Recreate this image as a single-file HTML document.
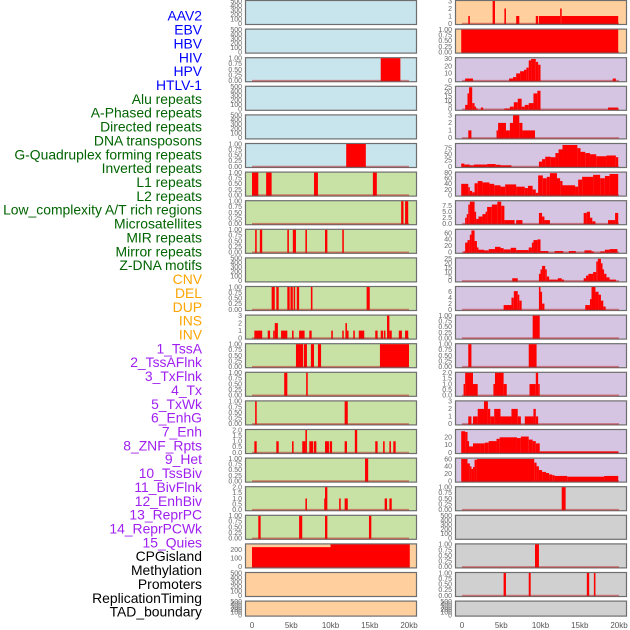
<!DOCTYPE html>
<html><head><meta charset="utf-8"><title>Track density panels</title>
<style>
html,body{margin:0;padding:0;background:#fff;}
svg{display:block;font-family:"Liberation Sans",sans-serif;}
</style></head>
<body>
<svg id="chart" width="630" height="630" viewBox="0 0 630 630" xmlns="http://www.w3.org/2000/svg"></svg>
<script>
// ---- track labels ----
const trackLabels = ["AAV2","EBV","HBV","HIV","HPV","HTLV-1","Alu repeats","A-Phased repeats","Directed repeats","DNA transposons","G-Quadruplex forming repeats","Inverted repeats","L1 repeats","L2 repeats","Low_complexity A/T rich regions","Microsatellites","MIR repeats","Mirror repeats","Z-DNA motifs","CNV","DEL","DUP","INS","INV","1_TssA","2_TssAFlnk","3_TxFlnk","4_Tx","5_TxWk","6_EnhG","7_Enh","8_ZNF_Rpts","9_Het","10_TssBiv","11_BivFlnk","12_EnhBiv","13_ReprPC","14_ReprPCWk","15_Quies","CPGisland","Methylation","Promoters","ReplicationTiming","TAD_boundary"];
const labelColors = ["#0000ff","#0000ff","#0000ff","#0000ff","#0000ff","#0000ff","#006400","#006400","#006400","#006400","#006400","#006400","#006400","#006400","#006400","#006400","#006400","#006400","#006400","#ffa500","#ffa500","#ffa500","#ffa500","#ffa500","#a020f0","#a020f0","#a020f0","#a020f0","#a020f0","#a020f0","#a020f0","#a020f0","#a020f0","#a020f0","#a020f0","#a020f0","#a020f0","#a020f0","#a020f0","#000000","#000000","#000000","#000000","#000000"];

// ---- x axis ----
const xTicks = [0,5,10,15,20];
const xTickLabels = ["0","5kb","10kb","15kb","20kb"];

// ---- y tick sets ----
const t500 = [0,100,200,300,400,500];
const t1 = [0,0.25,0.5,0.75,1];
const t1Labels = ["0.00","0.25","0.50","0.75","1.00"];
const t2 = [0,0.5,1,1.5,2];
const t2Labels = ["0.0","0.5","1.0","1.5","2.0"];
const t3 = [0,1,2,3];
const t30 = [0,10,20,30];
const t25 = [0,5,10,15,20,25];
const t75 = [0,25,50,75];
const t80 = [0,20,40,60,80];
const t7 = [0,2.5,5,7.5];
const t7Labels = ["0.0","2.5","5.0","7.5"];
const t60 = [0,20,40,60];
const t6 = [0,2,4,6];
const t20 = [0,10,20];
const t200 = [0,100,200];

// ---- segments [startKb, endKb, value] ----
const L3 = [[16.4,18.9,1]];
const L6 = [[12.0,14.5,1]];
const L7 = [[0,0.8,1],[1.8,2.5,1],[7.9,8.4,1],[15.4,15.9,1]];
const L8 = [[19.0,19.3,1],[19.5,19.9,1]];
const L9 = [[0.4,0.6,1],[1.0,1.3,1],[4.5,4.7,1],[5.2,5.6,1],[6.8,7.0,1],[9.3,9.6,1],[11.5,11.7,1]];
const L11 = [[2.5,2.9,1],[3.1,3.4,1],[4.5,4.8,1],[4.9,5.2,1],[5.3,5.5,1],[5.7,6.0,1],[7.5,7.7,1],[14.6,15.0,1]];
const L12 = [[0.3,1.3,1],[2.0,2.3,1],[2.7,2.9,1],[2.9,3.3,2],[3.7,4.5,1],[5.1,5.3,1],[6.0,6.7,1],[7.3,7.6,1],[10.1,10.3,1],[11.5,11.6,1],[11.9,12.1,2],[12.1,12.3,1],[12.9,13.1,1],[13.6,14.3,1],[15.7,16.0,1],[16.4,16.7,1],[16.8,17.0,1],[17.2,17.5,3],[17.5,17.8,1],[18.7,19.1,1],[19.5,19.9,1]];
const L13 = [[5.6,6.5,1],[6.6,7.0,1],[7.5,7.9,1],[8.4,8.8,1],[16.3,20.0,1]];
const L14 = [[4.1,4.5,1],[6.9,7.1,1]];
const L15 = [[0.4,0.6,1],[11.8,12.2,1]];
const L16 = [[0.3,0.6,1],[3.1,3.4,1],[5.1,5.3,1],[6.4,6.8,1],[6.8,7.0,2],[7.3,7.8,1],[7.9,8.2,1],[9.3,9.8,1],[9.9,10.2,1],[11.8,12.1,1],[13.1,13.4,2],[15.7,16.0,1],[16.7,16.9,1],[17.5,17.7,1],[18.0,18.3,1]];
const L17 = [[14.4,14.8,1]];
const L18 = [[6.8,7.0,1],[9.2,9.3,1],[9.3,9.6,2],[11.1,11.3,1],[11.8,12.2,1],[16.9,17.2,1],[17.5,17.8,1]];
const L19 = [[0.8,1.1,1],[6.0,6.4,1],[9.3,9.6,1],[14.9,15.2,1]];
const L20 = [[0,10,230],[10,20.1,262]];

const R1 = [[0.8,1.0,1],[3.9,4.2,3],[5.4,5.6,2],[6.9,7.3,1],[9.4,9.7,1],[9.8,12.5,1],[12.5,12.7,2],[12.7,19.9,1]];
const R2 = [[-0.1,19.9,1]];
const R3 = [[0.4,1.4,3],[6.0,6.5,3],[6.5,6.9,5],[6.9,7.4,10],[7.4,7.9,13],[7.9,8.2,15],[8.2,8.5,18],[8.5,8.8,28],[8.8,9.4,30],[9.4,9.7,26],[9.7,10.0,22],[19.2,19.6,3]];
const R4 = [[0.4,0.7,5],[0.7,0.9,18],[0.9,1.3,25],[1.3,1.6,7],[1.6,1.8,3],[1.8,2.0,1],[2.4,2.7,2],[5.4,6.1,1],[6.1,6.6,3],[6.6,7.1,8],[7.1,7.6,12],[7.6,8.0,3],[8.0,8.5,5],[8.5,9.1,7],[9.1,9.6,18],[9.6,10.0,21],[18.6,19.9,2]];
const R5 = [[0.8,1.2,1],[4.4,4.6,1],[4.6,5.6,2],[5.6,6.1,1],[6.1,6.5,2],[6.5,7.3,3],[7.3,7.7,2],[7.7,9.3,1]];
const R6 = [[-0.1,0.3,12],[0.3,1.0,8],[1.0,1.5,5],[1.5,3.2,8],[3.2,4.3,10],[4.3,4.9,7],[4.9,6.3,5],[9.8,10.2,20],[10.2,10.6,30],[10.6,11.3,40],[11.3,11.9,38],[11.9,12.3,55],[12.3,12.8,70],[12.8,14.7,88],[14.7,15.1,75],[15.1,15.7,60],[15.7,16.3,55],[16.3,17.1,50],[17.1,18.4,42],[18.4,19.6,45],[19.6,19.9,38]];
const R7 = [[-0.1,0.8,40],[0.8,1.0,28],[1.0,1.3,15],[1.3,1.6,10],[1.6,2.0,42],[2.0,2.6,50],[2.6,3.5,45],[3.5,4.1,40],[4.1,4.9,35],[4.9,5.5,30],[5.5,6.9,38],[6.9,8.0,30],[8.0,8.4,25],[8.4,9.0,33],[9.0,9.4,20],[9.4,9.7,8],[9.7,10.3,70],[10.3,10.8,60],[10.8,11.2,65],[11.2,12.1,78],[12.1,12.5,60],[12.5,12.8,50],[12.8,14.4,35],[14.4,14.8,30],[14.8,15.3,55],[15.3,16.7,65],[16.7,17.6,72],[17.6,18.2,60],[18.2,18.8,68],[18.8,19.9,75]];
const R8 = [[0.4,0.6,2.5],[0.6,0.8,4],[0.8,1.0,8],[1.0,1.6,9.2],[1.6,1.8,5],[1.8,2.1,2],[2.1,2.6,3],[2.6,3.0,4],[3.0,3.2,5],[3.2,3.8,7],[3.8,4.5,8],[4.5,5.0,9.2],[5.0,5.4,7.5],[5.4,6.7,1.5],[6.9,7.7,1.5],[9.8,10.2,4.5],[10.2,10.5,3],[10.5,11.2,1.5],[15.5,15.9,4.5],[15.9,16.3,5],[16.3,16.6,2.5],[16.6,17.0,1],[18.6,19.5,1.5],[19.5,19.9,4.5]];
const R9 = [[0.2,0.4,3],[0.4,0.7,30],[0.7,1.0,38],[1.0,1.2,55],[1.2,1.6,68],[1.6,1.9,35],[1.9,2.1,15],[2.1,2.8,8],[2.8,3.4,6],[3.4,4.2,10],[4.2,4.9,17],[4.9,5.3,13],[5.3,6.2,9],[6.2,6.9,14],[6.9,8.5,7],[8.5,8.9,15],[8.9,9.1,30],[9.1,9.6,38],[9.6,10.0,40],[10.0,11.0,4],[11.8,12.9,4],[13.6,14.5,4],[15.6,16.5,6],[16.5,16.8,3],[17.6,18.2,3],[18.2,18.8,8],[18.8,19.8,10]];
const R10 = [[6.4,7.1,3],[9.8,10.0,8],[10.0,10.2,13],[10.2,10.6,17],[10.6,10.8,13],[10.8,11.1,5],[11.1,12.2,1.5],[12.2,12.7,3],[12.7,13.0,1.5],[15.5,15.8,3],[15.8,16.1,6],[16.1,16.7,8],[16.7,17.1,10],[17.1,17.3,22],[17.3,17.7,25],[17.7,17.9,20],[17.9,18.1,13],[18.1,18.4,8],[18.4,18.8,4],[18.8,19.6,1.5]];
const R11 = [[5.3,6.3,1.5],[6.3,6.6,4],[6.6,7.1,6.2],[7.1,7.3,5],[7.3,7.6,3],[9.8,10.0,7.6],[10.0,10.2,6],[10.2,10.5,2],[15.7,16.3,1.5],[16.3,16.5,3.5],[16.5,17.0,7.6],[17.0,17.4,6],[17.4,17.7,5],[17.7,18.0,3],[18.0,18.3,1]];
const R12 = [[9.0,9.9,1]];
const R13 = [[0.8,1.2,1],[8.5,9.5,1]];
const R14 = [[0.2,0.4,1],[0.4,1.4,2],[1.4,2.0,1],[4.0,4.2,1],[4.2,5.3,2],[5.3,5.7,1],[8.6,9.4,1],[9.4,9.7,2],[9.7,9.9,1]];
const R15 = [[0.8,1.2,1],[1.4,2.0,1],[2.0,2.8,2],[2.8,3.3,3],[3.3,3.6,2],[3.6,4.1,1],[4.1,4.9,2],[4.9,6.3,1],[6.3,7.1,2],[7.1,7.5,1],[8.0,9.1,1],[9.1,9.4,2],[9.4,9.7,1]];
const R16 = [[-0.1,0.4,28],[0.4,0.7,27],[0.7,0.9,15],[0.9,1.4,8],[1.4,2.3,12],[2.3,2.9,12],[2.9,3.4,13],[3.4,4.4,15],[4.4,4.8,18],[4.8,7.0,20],[7.0,7.5,19],[7.5,8.5,21],[8.5,9.0,17],[9.0,9.4,15],[9.4,9.9,12],[9.9,19.9,1.5]];
const R17 = [[-0.1,0.7,60],[0.7,1.0,48],[1.0,1.2,40],[1.2,1.4,33],[1.4,1.6,38],[1.6,1.9,58],[1.9,9.2,60],[9.2,9.5,50],[9.5,9.8,40],[9.8,10.2,30],[10.2,10.7,25],[10.7,11.1,22],[11.1,11.5,18],[11.5,11.8,16],[11.8,13.4,14],[13.4,18.1,12],[18.1,19.9,14]];
const R18 = [[12.7,13.2,1]];
const R20 = [[9.3,9.8,1]];
const R21 = [[5.3,5.6,1],[8.5,8.75,1],[15.9,16.2,1],[16.8,17.0,1]];

// ---- panel layout (column, row, background, y-range, ticks, data) ----
const BLUE="#c8e4ec", GREEN="#c8e2a6", ORANGE="#ffd09e", PURPLE="#d5c5e2", GRAY="#d0d0d0";
const panels = [
 {c:0,r:0,bg:BLUE,ymax:500,ticks:t500,data:[]},
 {c:0,r:1,bg:BLUE,ymax:500,ticks:t500,data:[]},
 {c:0,r:2,bg:BLUE,ymax:1,ticks:t1,lab:t1Labels,data:L3},
 {c:0,r:3,bg:BLUE,ymax:500,ticks:t500,data:[]},
 {c:0,r:4,bg:BLUE,ymax:500,ticks:t500,data:[]},
 {c:0,r:5,bg:BLUE,ymax:1,ticks:t1,lab:t1Labels,data:L6},
 {c:0,r:6,bg:GREEN,ymax:1,ticks:t1,lab:t1Labels,data:L7},
 {c:0,r:7,bg:GREEN,ymax:1,ticks:t1,lab:t1Labels,data:L8},
 {c:0,r:8,bg:GREEN,ymax:1,ticks:t1,lab:t1Labels,data:L9},
 {c:0,r:9,bg:GREEN,ymax:500,ticks:t500,data:[]},
 {c:0,r:10,bg:GREEN,ymax:1,ticks:t1,lab:t1Labels,data:L11},
 {c:0,r:11,bg:GREEN,ymax:3,ticks:t3,data:L12},
 {c:0,r:12,bg:GREEN,ymax:1,ticks:t1,lab:t1Labels,data:L13},
 {c:0,r:13,bg:GREEN,ymax:1,ticks:t1,lab:t1Labels,data:L14},
 {c:0,r:14,bg:GREEN,ymax:1,ticks:t1,lab:t1Labels,data:L15},
 {c:0,r:15,bg:GREEN,ymax:2,ticks:t2,lab:t2Labels,data:L16},
 {c:0,r:16,bg:GREEN,ymax:1,ticks:t1,lab:t1Labels,data:L17},
 {c:0,r:17,bg:GREEN,ymax:2,ticks:t2,lab:t2Labels,data:L18},
 {c:0,r:18,bg:GREEN,ymax:1,ticks:t1,lab:t1Labels,data:L19},
 {c:0,r:19,bg:ORANGE,ymax:262,ticks:t200,data:L20},
 {c:0,r:20,bg:ORANGE,ymax:500,ticks:t500,data:[]},
 {c:0,r:21,bg:ORANGE,ymax:500,ticks:t500,data:[],short:true},
 {c:1,r:0,bg:ORANGE,ymax:3,ticks:t3,data:R1},
 {c:1,r:1,bg:ORANGE,ymax:1,ticks:t1,lab:t1Labels,data:R2},
 {c:1,r:2,bg:PURPLE,ymax:31,ticks:t30,data:R3},
 {c:1,r:3,bg:PURPLE,ymax:25.5,ticks:t25,data:R4},
 {c:1,r:4,bg:PURPLE,ymax:3,ticks:t3,data:R5},
 {c:1,r:5,bg:PURPLE,ymax:92,ticks:t75,data:R6},
 {c:1,r:6,bg:PURPLE,ymax:80,ticks:t80,data:R7},
 {c:1,r:7,bg:PURPLE,ymax:9.4,ticks:t7,lab:t7Labels,data:R8},
 {c:1,r:8,bg:PURPLE,ymax:70,ticks:t60,data:R9},
 {c:1,r:9,bg:PURPLE,ymax:25.5,ticks:t25,data:R10},
 {c:1,r:10,bg:PURPLE,ymax:7.6,ticks:t6,data:R11},
 {c:1,r:11,bg:PURPLE,ymax:1,ticks:t1,lab:t1Labels,data:R12},
 {c:1,r:12,bg:PURPLE,ymax:1,ticks:t1,lab:t1Labels,data:R13},
 {c:1,r:13,bg:PURPLE,ymax:2,ticks:t2,lab:t2Labels,data:R14},
 {c:1,r:14,bg:PURPLE,ymax:3,ticks:t3,data:R15},
 {c:1,r:15,bg:PURPLE,ymax:29.6,ticks:t20,data:R16},
 {c:1,r:16,bg:PURPLE,ymax:61,ticks:t60,data:R17},
 {c:1,r:17,bg:GRAY,ymax:1,ticks:t1,lab:t1Labels,data:R18},
 {c:1,r:18,bg:GRAY,ymax:500,ticks:t500,data:[]},
 {c:1,r:19,bg:GRAY,ymax:1,ticks:t1,lab:t1Labels,data:R20},
 {c:1,r:20,bg:GRAY,ymax:1,ticks:t1,lab:t1Labels,data:R21},
 {c:1,r:21,bg:GRAY,ymax:500,ticks:t500,data:[],short:true}
];

const NS = "http://www.w3.org/2000/svg";
const svg = document.getElementById("chart");
function mk(tag, attrs, parent){
  const e = document.createElementNS(NS, tag);
  for (const k in attrs) e.setAttribute(k, attrs[k]);
  (parent||svg).appendChild(e);
  return e;
}
const colLeft = [245, 455];
const panelW = 171;
const kbScale = 7.85;
function xScale(col, kb){ return colLeft[col] + 7 + kb*kbScale; }
const rowPitch = 28.6;

// labels
trackLabels.forEach((name,i)=>{
  const t = mk("text",{x:202,y:(20.7+13.86*i).toFixed(1),"text-anchor":"end","font-size":"13.9",fill:labelColors[i]});
  t.textContent = name;
  
  
});

panels.forEach((p,idx)=>{
  const top = p.r*rowPitch;
  const h = p.short ? 16 : 25;
  const x0 = colLeft[p.c];
  const g = mk("g",{});
  
  
  mk("rect",{x:x0+0.5,y:top+0.5,width:panelW,height:h-1,fill:p.bg,stroke:"#6e6e6e","stroke-width":1.2},g);
  const yb = top + h - 1.5, yt = top + 1;
  const yS = v => yb - (v/p.ymax)*(yb-yt);
  p.ticks.forEach((v,j)=>{
    const tl = mk("text",{x:x0-3,y:(yS(v)+2.3).toFixed(1),"text-anchor":"end","font-size":"7",fill:"#666"},g);
    tl.textContent = p.lab ? p.lab[j] : String(v);
    
    
  });
  if (p.data.length){
    p.data.forEach(d=>{
      const xa = xScale(p.c,d[0]), xb = xScale(p.c,d[1]);
      const yv = Math.max(yS(d[2]), top+0.5);
      const b = mk("rect",{x:xa.toFixed(2),y:yv.toFixed(2),width:Math.max(1.5,xb-xa).toFixed(2),height:(yb-yv+0.5).toFixed(2),fill:"#ff0000"},g);
      
      
    });
    const bl = mk("line",{x1:xScale(p.c,0),x2:xScale(p.c,20),y1:yb,y2:yb,stroke:"rgba(190,30,30,0.5)","stroke-width":1.6},g);
    
    
  }
});

// x axes
[0,1].forEach(c=>{
  xTicks.forEach((v,j)=>{
    const t = mk("text",{x:xScale(c,v).toFixed(1),y:628,"text-anchor":"middle","font-size":"8",fill:"#555"});
    t.textContent = xTickLabels[j];
    
    
  });
});
</script>
</body></html>
